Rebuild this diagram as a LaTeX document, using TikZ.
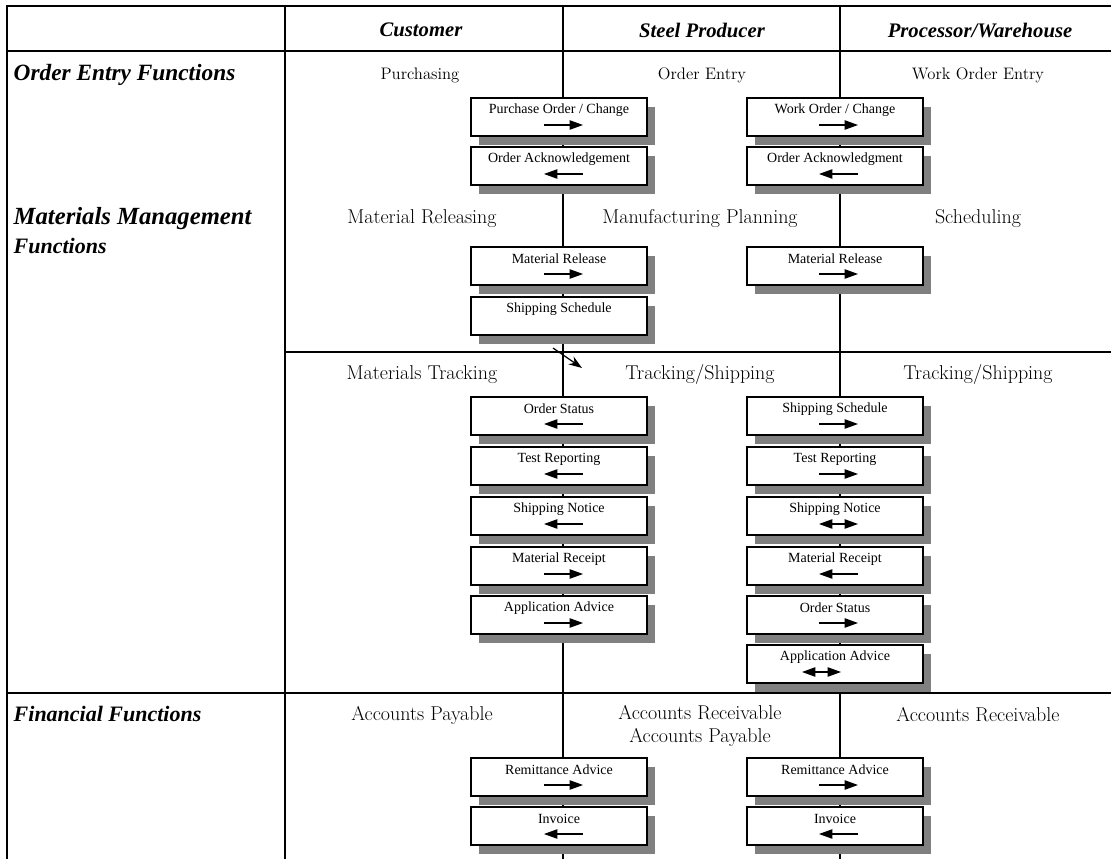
\documentclass[tikz,border=0pt]{standalone}
\usepackage{fontspec}
\newfontfamily\timesfont{Liberation Serif}
\usetikzlibrary{shadows,arrows.meta}
\definecolor{shadowgray}{HTML}{808080}

\tikzset{
  thickrule/.style={line width=2.2pt},
  thinrule/.style={line width=0.8pt},
  hdtext/.style={font=\timesfont\bfseries\itshape\fontsize{15.5}{17}\selectfont},
  rowtext/.style={anchor=west, font=\timesfont\bfseries\itshape\fontsize{16.5}{18}\selectfont},
  bigrow/.style={anchor=west, font=\timesfont\bfseries\itshape\fontsize{18.5}{20}\selectfont},
  smalltitle/.style={font=\fontsize{12.5}{14}\selectfont},
  fntitle/.style={font=\fontsize{15}{17}\selectfont},
  msgbox/.style={draw, fill=white, line width=1pt, minimum width=132pt,
    minimum height=28.5pt, inner sep=0pt,
    drop shadow={shadow xshift=6pt, shadow yshift=-6.75pt, opacity=1, fill=shadowgray}},
  msgtext/.style={font=\timesfont\fontsize{10.5}{12}\selectfont},
  toR/.style={-{Triangle[length=10pt,width=7pt]}, line width=0.9pt},
  toL/.style={{Triangle[length=10pt,width=7pt]}-, line width=0.9pt},
  toB/.style={{Triangle[length=10pt,width=7pt]}-{Triangle[length=10pt,width=7pt]}, line width=0.9pt},
  noArr/.style={draw=none},
}

\begin{document}
\begin{tikzpicture}[x=0.75pt,y=-0.75pt]
\fill[white] (0,0) rectangle (1111,859);
\useasboundingbox (0,0) rectangle (1111,859);

% table rules
\draw[thinrule] (285,6) -- (285,859);
\draw[thinrule] (563,6) -- (563,859);
\draw[thinrule] (840,6) -- (840,859);
\draw[thinrule] (285,352) -- (1111,352);
\draw[thickrule] (6,6) -- (1111,6);
\draw[thickrule] (7,5) -- (7,859);
\draw[thickrule] (6,51) -- (1111,51);
\draw[thickrule] (6,693) -- (1111,693);

% headings
\node[hdtext] (hcust) at (421,30) {Customer};
\node[hdtext] (hsteel) at (702,30) {Steel Producer};
\node[hdtext] (hproc) at (980,30) {Processor/Warehouse};

\node[rowtext, font=\timesfont\bfseries\itshape\fontsize{17.5}{19}\selectfont] (rorder) at (9,75) {Order Entry Functions};
\node[bigrow] (rmat) at (9,219) {Materials Management};
\node[rowtext] (rmat2) at (9,246) {Functions};
\node[rowtext] (rfin) at (9,714) {Financial Functions};

% function titles
\node[smalltitle] (purch) at (420,75) {Purchasing};
\node[smalltitle] (oentry) at (702,75) {Order Entry};
\node[smalltitle] (woentry) at (978,75) {Work Order Entry};

\node[fntitle] (mrel) at (422,219) {Material Releasing};
\node[fntitle] (mplan) at (700,219) {Manufacturing Planning};
\node[fntitle] (sched) at (978,219) {Scheduling};

\node[fntitle] (mtrack) at (422,375) {Materials Tracking};
\node[fntitle] (tship) at (700,375) {Tracking/Shipping};
\node[fntitle] (tship2) at (978,375) {Tracking/Shipping};

\node[fntitle] (apay) at (422,715) {Accounts Payable};
\node[fntitle, align=center] (arap) at (700,726) {Accounts Receivable\\Accounts Payable};
\node[fntitle] (arec) at (978,715) {Accounts Receivable};

% message boxes
\foreach \n/\x/\y/\t/\a/\s in {
  poL/559/117/{Purchase Order / Change}/toR/-15,
  oaL/559/166/{Order Acknowledgement}/toL/-15,
  mrL/559/266/{Material Release}/toR/-15,
  ssL/559/316/{Shipping Schedule}/noArr/-15,
  osL/559/416/{Order Status}/toL/-15,
  trL/559/466/{Test Reporting}/toL/-15,
  snL/559/516/{Shipping Notice}/toL/-15,
  rcL/559/566/{Material Receipt}/toR/-15,
  aaL/559/615/{Application Advice}/toR/-15,
  raL/559/777/{Remittance Advice}/toR/-15,
  inL/559/826/{Invoice}/toL/-15,
  poR/835/117/{Work Order / Change}/toR/-16,
  oaR/835/166/{Order Acknowledgment}/toL/-16,
  mrR/835/266/{Material Release}/toR/-16,
  ssR/835/416/{Shipping Schedule}/toR/-16,
  trR/835/466/{Test Reporting}/toR/-16,
  snR/835/516/{Shipping Notice}/toB/-16,
  rcR/835/566/{Material Receipt}/toL/-16,
  osR/835/615/{Order Status}/toR/-16,
  aaR/835/664/{Application Advice}/toB/-33,
  raR/835/777/{Remittance Advice}/toR/-16,
  inR/835/826/{Invoice}/toL/-16}{
  \node[msgbox] (\n) at (\x,\y) {};
  \node[msgtext] at ([shift={(0,-7)}]\n.center) {\t};
  \draw[\a] ([shift={(\s,8)}]\n.center) -- ++(39,0);
}

% shipping schedule handoff
\coordinate (hstart) at (553,348);
\coordinate (hend) at (582,368);
\draw[-{Stealth[length=10pt,width=7pt]}, line width=0.9pt] (hstart) -- (hend);
\end{tikzpicture}
\end{document}
